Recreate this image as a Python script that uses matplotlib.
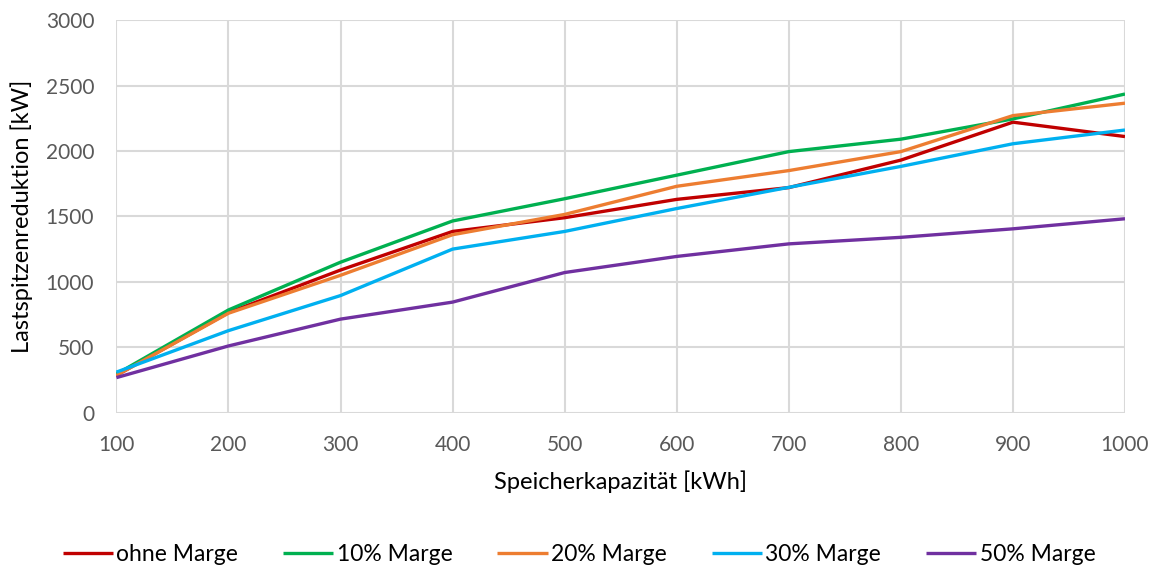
import matplotlib
matplotlib.use("Agg")
import matplotlib.pyplot as plt

capacity = [100, 200, 300, 400, 500, 600, 700, 800, 900, 1000]
ohne_marge = [285, 765, 1090, 1385, 1490, 1630, 1720, 1930, 2220, 2110]
marge_10 = [295, 785, 1150, 1465, 1635, 1815, 1995, 2090, 2245, 2435]
marge_20 = [285, 760, 1050, 1360, 1515, 1730, 1850, 1995, 2270, 2365]
marge_30 = [310, 627, 895, 1250, 1385, 1560, 1722, 1882, 2055, 2160]
marge_50 = [268, 510, 715, 845, 1071, 1194, 1290, 1340, 1405, 1482]

series = [
    ("ohne Marge", ohne_marge, "#C00000"),
    ("10% Marge", marge_10, "#00B050"),
    ("20% Marge", marge_20, "#ED7D31"),
    ("30% Marge", marge_30, "#00B0F0"),
    ("50% Marge", marge_50, "#7030A0"),
]

plt.rcParams['font.family'] = ['Lato', 'DejaVu Sans']

fig = plt.figure(figsize=(11.58, 5.69), dpi=100)
ax = fig.add_axes([0.1005, 0.2747, 0.871, 0.69])

for label, vals, color in series:
    ax.plot(capacity, vals, color=color, lw=2.4, label=label, solid_capstyle='butt')

ax.set_xlim(100, 1000)
ax.set_ylim(0, 3000)
ax.set_xticks(range(100, 1001, 100))
ax.set_yticks(range(0, 3001, 500))
ax.grid(True, color="#d9d9d9", lw=1.5)
ax.set_axisbelow(True)
for s in ax.spines.values():
    s.set_visible(False)
ax.tick_params(length=0, labelsize=15, colors="#595959", pad=16)

ax.set_xlabel("Speicherkapazität [kWh]", fontsize=17, color="#000000", labelpad=11)
ax.set_ylabel("Lastspitzenreduktion [kW]", fontsize=17, color="#000000", labelpad=9)

leg = fig.legend(loc="center", bbox_to_anchor=(0.5, 0.025), ncol=5, frameon=False,
                 fontsize=16.5, handlelength=2.2, columnspacing=1.95, handletextpad=0.15)

fig.savefig("out.png", dpi=100)
